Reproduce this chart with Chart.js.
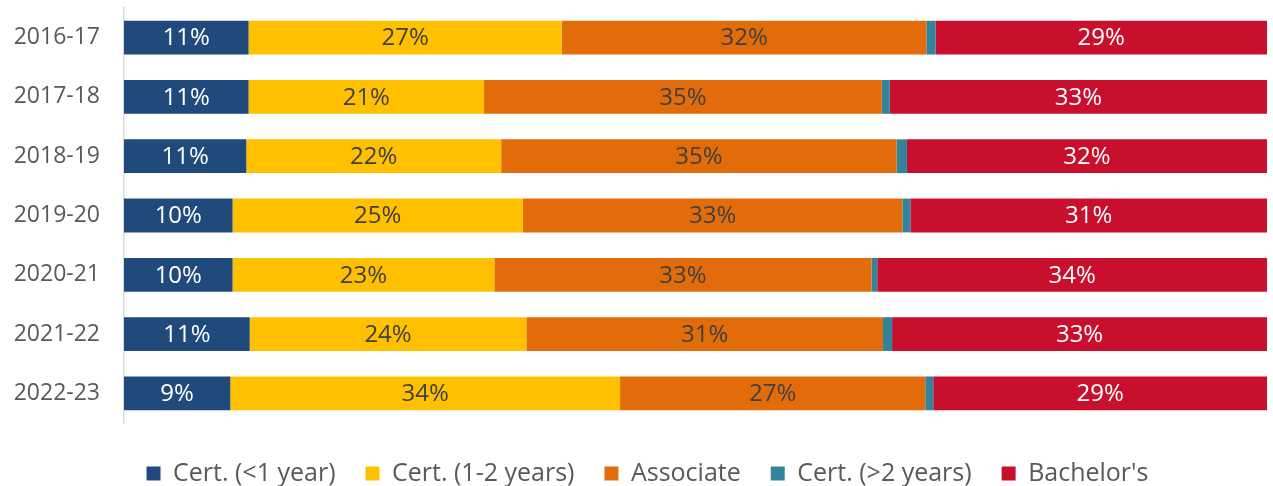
<!DOCTYPE html>
<html lang="en">
<head>
    <meta charset="UTF-8">
    <title>Credentials by year</title>
    <script src="https://cdn.jsdelivr.net/npm/chart.js"></script>
    <style>
        html, body { margin: 0; padding: 0; background: #ffffff; }
        .chart-box { width: 1273px; height: 486px; position: relative; }
    </style>
</head>
<body>
    <div class="chart-box"><canvas id="awardsChart"></canvas></div>

    <script>
        const years = ['2016-17', '2017-18', '2018-19', '2019-20', '2020-21', '2021-22', '2022-23'];

        // shares in percent
        const certUnder1 = [10.9, 10.9, 10.7, 9.5, 9.5, 11.0, 9.3];
        const cert1to2 = [27.4, 20.6, 22.3, 25.4, 22.9, 24.2, 34.1];
        const associate = [31.9, 34.8, 34.6, 33.2, 33.0, 31.2, 26.7];
        const certOver2 = [0.8, 0.7, 0.9, 0.7, 0.5, 0.8, 0.7];
        const bachelors = [29.0, 33.0, 31.5, 31.2, 34.1, 32.8, 29.2];

        const fontFamily = "'Open Sans', 'DejaVu Sans', sans-serif";

        const seriesList = [
            { label: 'Cert. (<1 year)', data: certUnder1, color: '#214a7c', text: '#ffffff', showLabel: true },
            { label: 'Cert. (1-2 years)', data: cert1to2, color: '#ffc000', text: '#404040', showLabel: true },
            { label: 'Associate', data: associate, color: '#e36c0a', text: '#404040', showLabel: true },
            { label: 'Cert. (>2 years)', data: certOver2, color: '#31849b', text: '#ffffff', showLabel: false },
            { label: "Bachelor's", data: bachelors, color: '#c8102e', text: '#ffffff', showLabel: true }
        ];

        // percentage labels in the middle of each segment
        const segmentLabels = {
            id: 'segmentLabels',
            afterDatasetsDraw(chart) {
                const ctx = chart.ctx;
                ctx.save();
                ctx.font = '400 24px ' + fontFamily;
                ctx.textAlign = 'center';
                ctx.textBaseline = 'middle';
                chart.data.datasets.forEach((ds, i) => {
                    if (!ds.showLabel) return;
                    const meta = chart.getDatasetMeta(i);
                    meta.data.forEach((bar, j) => {
                        const cx = (bar.x + bar.base) / 2;
                        ctx.fillStyle = ds.labelColor;
                        ctx.fillText(Math.round(ds.data[j]) + '%', cx, bar.y + 1);
                    });
                });
                ctx.restore();
            }
        };

        // keep the legend strip short while using a wide gap between items
        const legendHeight = {
            id: 'legendHeight',
            afterInit(chart) {
                const legend = chart.legend;
                const fit = legend.fit;
                legend.fit = function () {
                    fit.call(this);
                    this.height = 63;
                };
            },
            afterLayout(chart) {
                const legend = chart.legend;
                legend.top += 8;
                legend.bottom += 8;
                legend.left += 14;
                legend.right += 14;
            }
        };

        new Chart(document.getElementById('awardsChart').getContext('2d'), {
            type: 'bar',
            data: {
                labels: years,
                datasets: seriesList.map(s => ({
                    label: s.label,
                    data: s.data,
                    backgroundColor: s.color,
                    labelColor: s.text,
                    showLabel: s.showLabel,
                    borderWidth: 0,
                    barPercentage: 0.57,
                    categoryPercentage: 1.0
                }))
            },
            options: {
                indexAxis: 'y',
                responsive: true,
                maintainAspectRatio: false,
                animation: false,
                layout: {
                    padding: { top: 8, right: 6, bottom: 0, left: 0 }
                },
                scales: {
                    x: {
                        stacked: true,
                        min: 0,
                        max: 100,
                        display: false
                    },
                    y: {
                        stacked: true,
                        grid: { display: false, drawTicks: false },
                        border: { display: true, color: '#d9d9d9', width: 1.5 },
                        ticks: {
                            color: '#595959',
                            padding: 24,
                            font: { family: fontFamily, size: 23, weight: '400' }
                        },
                        afterFit(scale) {
                            scale.width = 124;
                            scale.paddingTop = 0;
                            scale.paddingBottom = 0;
                        }
                    }
                },
                plugins: {
                    legend: {
                        position: 'bottom',
                        labels: {
                            color: '#595959',
                            boxWidth: 14,
                            boxHeight: 14,
                            padding: 30,
                            font: { family: fontFamily, size: 25, weight: '400' }
                        }
                    },
                    tooltip: { enabled: false }
                }
            },
            plugins: [segmentLabels, legendHeight]
        });
    </script>
</body>
</html>
